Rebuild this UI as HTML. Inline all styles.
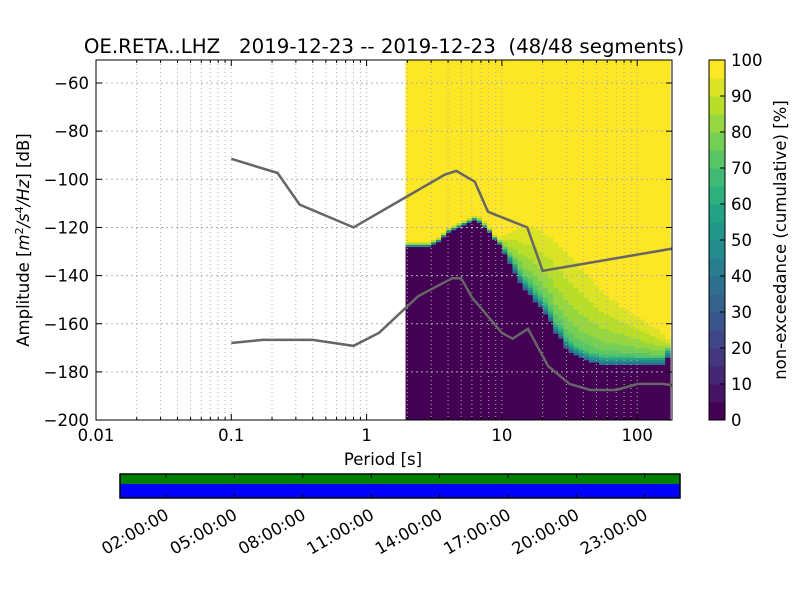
<!DOCTYPE html>
<html><head><meta charset="utf-8"><style>
body{margin:0;background:#fff;}
svg text{font-family:"DejaVu Sans","Liberation Sans",sans-serif;white-space:pre;}
</style></head><body>
<svg id="c" width="800" height="600" xmlns="http://www.w3.org/2000/svg">
<defs><clipPath id="plotclip"><rect x="96" y="60" width="576" height="360"/></clipPath></defs>
<rect width="800" height="600" fill="#fff"/>
<g id="heat" clip-path="url(#plotclip)"></g>
<g id="grid" clip-path="url(#plotclip)"></g>
<g id="lines" clip-path="url(#plotclip)"></g>
<rect x="96" y="60" width="576" height="360" fill="none" stroke="#000" stroke-width="1"/>
<g id="axes"></g>
<text x="384" y="53" text-anchor="middle" font-size="19.8" xml:space="preserve">OE.RETA..LHZ   2019-12-23 -- 2019-12-23  (48/48 segments)</text>
<text x="383" y="465" text-anchor="middle" font-size="16.5">Period [s]</text>
<text transform="translate(29,240) rotate(-90)" text-anchor="middle" font-size="16.5">Amplitude [<tspan font-style="italic">m</tspan><tspan font-size="11" dy="-6">2</tspan><tspan dy="6" font-style="italic">/s</tspan><tspan font-size="11" dy="-6">4</tspan><tspan dy="6" font-style="italic">/Hz</tspan>] [dB]</text>
<g id="cbar"></g>
<text transform="translate(786,240) rotate(-90)" text-anchor="middle" font-size="16.5">non-exceedance (cumulative) [%]</text>
<g id="tbar"></g>
</svg>
<script>
// ---- data ----
const periodStart = 1.94;        // first period bin [s]
const binsPerOctave = 8;
const lowEdge = [-128,-128,-128,-128,-128,-127,-126,-124,-122,-121,-120,-119,-118,-117,-118,-120,-122,-125,-127,-131,-135,-139,-143,-146,-148,-151,-153,-156,-159,-164,-166,-170,-172,-173,-174,-175,-176,-176,-177,-177,-177,-177,-177,-177,-177,-177,-177,-177,-177,-177,-177,-174];
const midEdge = [-127,-127,-127,-127,-127,-126,-125,-123,-121,-120,-119,-118,-117,-116,-117,-119,-121,-124,-126,-129,-132,-135,-139,-142,-144,-147,-149,-152,-155,-160,-162,-166,-168,-170,-171,-172,-173,-173,-174,-174,-174,-174,-174,-174,-174,-174,-174,-174,-174,-174,-174,-171];
const topEdge = [-126,-126,-126,-126,-126,-125,-124,-122,-120,-119,-118,-117,-116,-115,-115,-117,-120,-123,-124,-123,-122,-121,-120,-120,-120,-120,-121,-122.5,-124,-126,-128,-130,-132,-134,-137,-139,-141,-144,-146,-148,-149.5,-151,-152.5,-154,-155.5,-157,-158,-159.5,-161,-162,-163.5,-166];
const nhnmPeriods = [0.1,0.22,0.32,0.8,3.8,4.6,6.3,7.9,15.4,20,354.8];
const nhnmDb = [-91.5,-97.4,-110.5,-120,-98,-96.5,-101,-113.5,-120,-138,-126];
const nlnmPeriods = [0.1,0.17,0.4,0.8,1.24,2.4,4.3,5,6,10,12,15.6,21.9,31.6,45,70,101,154,328];
const nlnmDb = [-168,-166.7,-166.7,-169.2,-163.7,-148.6,-141.1,-141.1,-149,-163.8,-166.2,-162.1,-177.5,-185,-187.5,-187.5,-185,-185,-187.5];
const yTicks = [-60,-80,-100,-120,-140,-160,-180,-200];
const xTickLabels = ["0.01","0.1","1","10","100"];
const cbarTicks = [0,10,20,30,40,50,60,70,80,90,100];
const timeTickHours = [2,5,8,11,14,17,20,23];
const timeTickLabels = ["02:00:00","05:00:00","08:00:00","11:00:00","14:00:00","17:00:00","20:00:00","23:00:00"];

// ---- scales ----
const NS="http://www.w3.org/2000/svg";
const X0=96,X1=672,Y0=60,Y1=420, dec=135.3;
const xs=p=>X0+(Math.log10(p)+2)*dec;
const ys=d=>83+(-60-d)*48.15/20;
function mk(tag,attrs,parent){const e=document.createElementNS(NS,tag);for(const k in attrs)e.setAttribute(k,attrs[k]);parent.appendChild(e);return e;}
const vstops=[[68,1,84],[72,36,117],[65,68,135],[53,95,141],[42,120,142],[33,145,140],[34,168,132],[68,191,112],[122,209,81],[189,223,38],[253,231,37]];
function viridis(t){const s=t*10,i=Math.min(9,Math.floor(s)),f=s-i,a=vstops[i],b=vstops[i+1];return `rgb(${a.map((v,j)=>Math.round(v+(b[j]-v)*f)).join(',')})`;}
const levelColor=p=>viridis(Math.min(19,Math.floor(p/5))/19);

// ---- heatmap ----
const heat=document.getElementById('heat');
for(let i=0;i<lowEdge.length;i++){
  const pa=periodStart*Math.pow(2,i/binsPerOctave), pb=periodStart*Math.pow(2,(i+1)/binsPerOctave);
  const xa=xs(pa), xb=xs(pb);
  for(let d=-201;d<-49;d++){
    const c=d+0.5; let p;
    if(c<lowEdge[i]) p=0;
    else if(c<midEdge[i]) p=30+35*(c-lowEdge[i])/(midEdge[i]-lowEdge[i]);
    else if(c<topEdge[i]) p=65+30*Math.sqrt((c-midEdge[i])/(topEdge[i]-midEdge[i]));
    else p=100;
    const r=mk('rect',{x:xa.toFixed(2),y:ys(d+1).toFixed(2),width:(xb-xa+0.4).toFixed(2),height:(ys(d)-ys(d+1)+0.4).toFixed(2),fill:levelColor(p)},heat);
    
    
  }
}
// ---- grid ----
const grid=document.getElementById('grid');
for(let e=-2;e<3;e++)for(let m=1;m<10;m++){const x=xs(m*Math.pow(10,e));if(x<=X0||x>=X1)continue;
  const l=mk('line',{x1:x,x2:x,y1:Y0,y2:Y1,stroke:'#b0b0b0','stroke-dasharray':'1,3','stroke-width':1},grid);
  }
yTicks.forEach(t=>{const y=ys(t);const l=mk('line',{x1:X0,x2:X1,y1:y,y2:y,stroke:'#b0b0b0','stroke-dasharray':'2,3','stroke-width':1},grid);
  });
// ---- lines ----
const lines=document.getElementById('lines');
function poly(P,D,name){const pl=mk('polyline',{points:P.map((p,i)=>xs(p).toFixed(1)+','+ys(D[i]).toFixed(1)).join(' '),fill:'none',stroke:'#666','stroke-width':2.5},lines);
  }
poly(nhnmPeriods,nhnmDb,'nhnm-line');poly(nlnmPeriods,nlnmDb,'nlnm-line');
// ---- axes ----
const axes=document.getElementById('axes');
yTicks.forEach(t=>{const y=ys(t);
  mk('line',{x1:X0,x2:X0+6,y1:y,y2:y,stroke:'#000'},axes);mk('line',{x1:X1-6,x2:X1,y1:y,y2:y,stroke:'#000'},axes);
  const tx=mk('text',{x:X0-7,y:y+6,'text-anchor':'end','font-size':16.5},axes);tx.textContent='\u2212'+Math.abs(t);
  });
for(let e=-2;e<3;e++){
  for(let m=1;m<10;m++){const x=xs(m*Math.pow(10,e));if(x<X0||x>X1)continue;const L=m==1?6:3;
    mk('line',{x1:x,x2:x,y1:Y1,y2:Y1-L,stroke:'#000'},axes);mk('line',{x1:x,x2:x,y1:Y0,y2:Y0+L,stroke:'#000'},axes);}
  const tx=mk('text',{x:xs(Math.pow(10,e)),y:Y1+21,'text-anchor':'middle','font-size':16.5},axes);tx.textContent=xTickLabels[e+2];
  }
// ---- colorbar ----
const cb=document.getElementById('cbar');const CX=709,CW=16,CT=60,CB=420;
for(let k=0;k<20;k++){const y0=CB-(k+1)*(CB-CT)/20;mk('rect',{x:CX,y:y0,width:CW,height:(CB-CT)/20+0.5,fill:viridis(k/19)},cb);}
mk('rect',{x:CX,y:CT,width:CW,height:CB-CT,fill:'none',stroke:'#000'},cb);
cbarTicks.forEach(t=>{const y=CB-t/100*(CB-CT);mk('line',{x1:CX+CW-5,x2:CX+CW,y1:y,y2:y,stroke:'#000'},cb);
  const tx=mk('text',{x:CX+CW+6,y:y+6,'font-size':16.5},cb);tx.textContent=t;
  });
// ---- time bar ----
const tb=document.getElementById('tbar');const TX=120,TW=560,TT=474,TB=498,hpx=22.8,t0=120.4;
mk('rect',{x:TX,y:TT,width:TW,height:10,fill:'#008000'},tb);
mk('rect',{x:TX,y:TT+10,width:TW,height:TB-TT-10,fill:'#0000ff'},tb);
mk('rect',{x:TX,y:TT,width:TW,height:TB-TT,fill:'none',stroke:'#000','stroke-width':1.5},tb);
timeTickHours.forEach((h,i)=>{const x=t0+h*hpx;
  mk('line',{x1:x,x2:x,y1:TT,y2:TT+4,stroke:'#000'},tb);mk('line',{x1:x,x2:x,y1:TB,y2:TB-4,stroke:'#000'},tb);
  const tx=mk('text',{x:0,y:0,'text-anchor':'end','font-size':16.5,transform:`translate(${x+4},${TB+20}) rotate(-30)`},tb);tx.textContent=timeTickLabels[i];
  });
</script>
</body></html>
